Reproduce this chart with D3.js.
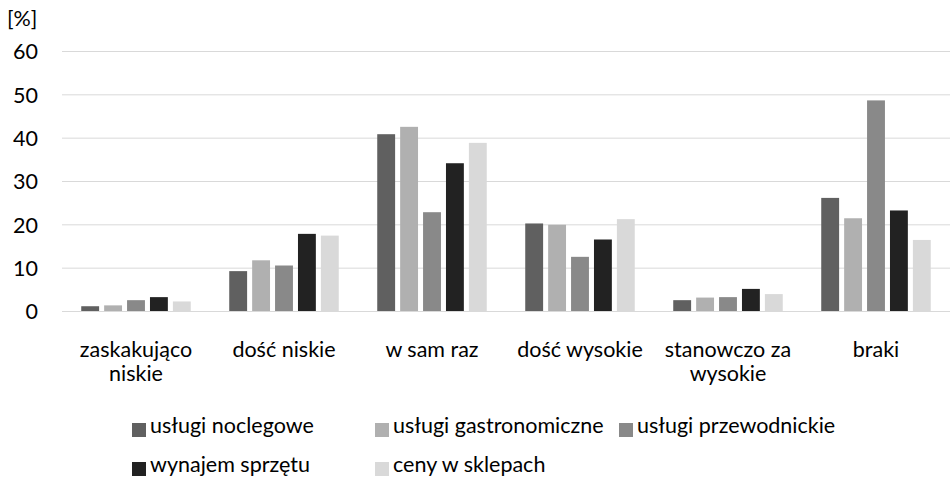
<!DOCTYPE html>
<html>
<head>
<meta charset="utf-8">
<script src="https://cdn.jsdelivr.net/npm/d3@7"></script>
<style>
  body { margin: 0; background: #fff; }
  text { font-family: Lato, "Open Sans", sans-serif; fill: #000; }
</style>
</head>
<body>
<div id="chart"></div>
<script>
// DATA
var categories = [["zaskakująco", "niskie"], ["dość niskie"], ["w sam raz"], ["dość wysokie"], ["stanowczo za", "wysokie"], ["braki"]]
var seriesNames = ["usługi noclegowe", "usługi gastronomiczne", "usługi przewodnickie", "wynajem sprzętu", "ceny w sklepach"]
var noclegowe = [1.1, 9.2, 40.8, 20.2, 2.5, 26.1]
var gastronomiczne = [1.3, 11.7, 42.5, 19.9, 3.1, 21.4]
var przewodnickie = [2.5, 10.5, 22.8, 12.5, 3.2, 48.6]
var sprzet = [3.2, 17.8, 34.1, 16.5, 5.1, 23.2]
var sklepy = [2.2, 17.4, 38.8, 21.2, 3.9, 16.4]
var yTicks = [0, 10, 20, 30, 40, 50, 60]

var series = [noclegowe, gastronomiczne, przewodnickie, sprzet, sklepy]
var colors = ["#606060", "#b0b0b0", "#898989", "#222222", "#d9d9d9"]

var width = 952, height = 481
var margin = {top: 51, right: 2, bottom: 170, left: 62}
var fontSize = "21.5px"

var svg = d3.select("#chart").append("svg")
  .attr("width", width)
  .attr("height", height)

var x0 = d3.scaleBand()
  .domain(d3.range(categories.length))
  .range([margin.left, width - margin.right])

var x1 = d3.scaleBand()
  .domain(d3.range(series.length))
  .range([0, x0.bandwidth() * 0.74])
  .paddingInner(0.22)

var y = d3.scaleLinear()
  .domain([0, 60])
  .range([311, margin.top])

// gridlines
svg.append("g")
  .selectAll("line")
  .data(yTicks)
  .enter().append("line")
    .attr("x1", margin.left)
    .attr("x2", width - margin.right)
    .attr("y1", d => y(d) + 0.5)
    .attr("y2", d => y(d) + 0.5)
    .style("stroke", "#d9d9d9")
    .style("stroke-width", 1)

// y labels
var yAxis = d3.axisLeft(y).tickValues(yTicks).tickSize(0).tickPadding(24)
var gy = svg.append("g")
  .attr("transform", "translate(" + margin.left + ",0)")
  .call(yAxis)
gy.select(".domain").remove()
gy.selectAll("text")
  .attr("dy", "0.36em")
  .style("font-family", "Lato, sans-serif")
  .style("font-size", fontSize)
  .style("fill", "#000")

svg.append("text")
  .attr("x", 7)
  .attr("y", 26)
  .style("font-size", fontSize)
  .text("[%]")

// bars
var groupOffset = (x0.bandwidth() - x1.range()[1]) / 2
var groups = svg.append("g")
  .selectAll("g")
  .data(categories)
  .enter().append("g")
    .attr("transform", (d, i) => "translate(" + (x0(i) + groupOffset) + ",0)")

groups.selectAll("rect")
  .data((d, i) => series.map((s, j) => ({s: j, v: s[i]})))
  .enter().append("rect")
    .attr("x", d => x1(d.s))
    .attr("width", x1.bandwidth())
    .attr("y", d => y(d.v))
    .attr("height", d => y(0) - y(d.v))
    .style("fill", d => colors[d.s])

// category labels
var catLabels = svg.append("g")
  .selectAll("text")
  .data(categories)
  .enter().append("text")
    .attr("text-anchor", "middle")
    .attr("x", (d, i) => x0(i) + x0.bandwidth() / 2)
    .attr("y", 357)
    .style("font-size", fontSize)

catLabels.selectAll("tspan")
  .data(d => d)
  .enter().append("tspan")
    .attr("x", function () { return this.parentNode.getAttribute("x") })
    .attr("dy", (d, i) => i == 0 ? 0 : 24)
    .text(d => d)

// legend
var legendPos = [[132, 433], [375, 433], [619, 433], [132, 472], [375, 472]]
var legend = svg.append("g")
  .selectAll("g")
  .data(seriesNames)
  .enter().append("g")
    .attr("transform", (d, i) => "translate(" + legendPos[i][0] + "," + legendPos[i][1] + ")")

legend.append("rect")
  .attr("x", 0)
  .attr("y", -10)
  .attr("width", 14)
  .attr("height", 14)
  .style("fill", (d, i) => colors[i])

legend.append("text")
  .attr("x", 18)
  .attr("y", 0)
  .style("font-size", fontSize)
  .text(d => d)
</script>
</body>
</html>
